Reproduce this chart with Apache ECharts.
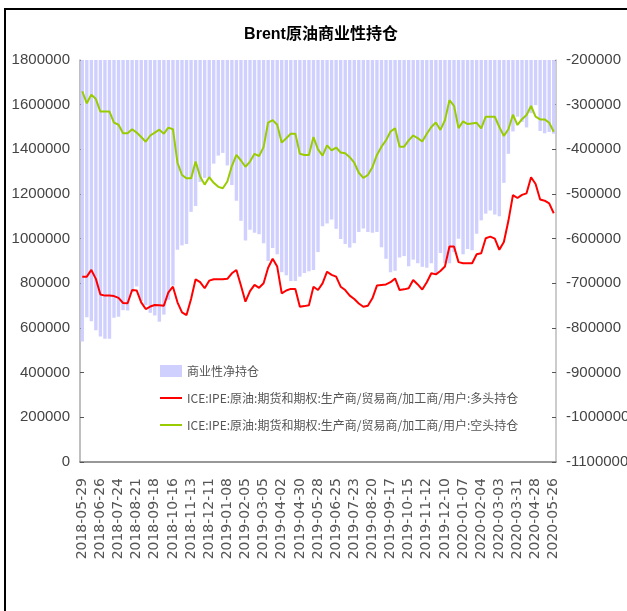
<!DOCTYPE html>
<html>
<head>
<meta charset="utf-8">
<script src="https://cdn.jsdelivr.net/npm/echarts@6/dist/echarts.min.js"></script>
<style>
  html, body { margin: 0; padding: 0; background: #fff; }
  #chart { width: 627px; height: 611px; }
</style>
</head>
<body>
<div id="chart"></div>
<script>
// weekly report dates (Tuesdays)
const dates = [
  '2018-05-29','2018-06-05','2018-06-12','2018-06-19','2018-06-26','2018-07-03','2018-07-10','2018-07-17',
  '2018-07-24','2018-07-31','2018-08-07','2018-08-14','2018-08-21','2018-08-28','2018-09-04','2018-09-11',
  '2018-09-18','2018-09-25','2018-10-02','2018-10-09','2018-10-16','2018-10-23','2018-10-30','2018-11-06',
  '2018-11-13','2018-11-20','2018-11-27','2018-12-04','2018-12-11','2018-12-18','2018-12-25','2019-01-01',
  '2019-01-08','2019-01-15','2019-01-22','2019-01-29','2019-02-05','2019-02-12','2019-02-19','2019-02-26',
  '2019-03-05','2019-03-12','2019-03-19','2019-03-26','2019-04-02','2019-04-09','2019-04-16','2019-04-23',
  '2019-04-30','2019-05-07','2019-05-14','2019-05-21','2019-05-28','2019-06-04','2019-06-11','2019-06-18',
  '2019-06-25','2019-07-02','2019-07-09','2019-07-16','2019-07-23','2019-07-30','2019-08-06','2019-08-13',
  '2019-08-20','2019-08-27','2019-09-03','2019-09-10','2019-09-17','2019-09-24','2019-10-01','2019-10-08',
  '2019-10-15','2019-10-22','2019-10-29','2019-11-05','2019-11-12','2019-11-19','2019-11-26','2019-12-03',
  '2019-12-10','2019-12-17','2019-12-24','2019-12-31','2020-01-07','2020-01-14','2020-01-21','2020-01-28',
  '2020-02-04','2020-02-11','2020-02-18','2020-02-25','2020-03-03','2020-03-10','2020-03-17','2020-03-24',
  '2020-03-31','2020-04-07','2020-04-14','2020-04-21','2020-04-28','2020-05-05','2020-05-12','2020-05-19',
  '2020-05-26'
];

// 商业性净持仓 (right axis)
const netPos = [
  -830000,-776000,-785000,-805000,-819000,-824000,-824000,-777000,-775000,-760000,-761000,-720000,
  -707000,-740000,-749000,-766000,-772000,-786000,-770000,-737000,-705000,-625000,-615000,-612000,
  -540000,-527000,-473000,-464000,-463000,-432000,-414000,-408000,-436000,-480000,-515000,-560000,
  -604000,-580000,-587000,-590000,-610000,-650000,-621000,-635000,-675000,-682000,-695000,-695000,
  -685000,-677000,-673000,-670000,-630000,-572000,-566000,-557000,-578000,-601000,-612000,-620000,
  -610000,-585000,-577000,-585000,-587000,-585000,-619000,-645000,-675000,-672000,-642000,-639000,
  -662000,-647000,-655000,-663000,-665000,-655000,-680000,-632000,-655000,-655000,-630000,-600000,
  -635000,-623000,-626000,-589000,-559000,-544000,-537000,-546000,-550000,-475000,-410000,-360000,
  -327000,-339000,-351000,-319000,-301000,-359000,-364000,-361000,-365000
];

// 多头持仓 (left axis)
const longPos = [
  830000,830000,860000,820000,750000,745000,745000,743000,735000,712000,711000,770000,
  768000,715000,685000,696000,703000,702000,700000,760000,785000,715000,670000,658000,
  730000,818000,805000,778000,812000,818000,818000,818000,820000,845000,860000,790000,
  718000,765000,793000,780000,800000,870000,910000,875000,755000,768000,775000,775000,
  695000,698000,702000,785000,770000,800000,852000,838000,830000,785000,770000,745000,
  730000,710000,695000,700000,733000,790000,793000,795000,805000,822000,770000,773000,
  778000,815000,795000,772000,805000,845000,840000,855000,875000,965000,965000,895000,
  890000,890000,890000,930000,935000,1002000,1009000,1000000,950000,985000,1080000,1195000,
  1182000,1196000,1203000,1275000,1245000,1175000,1170000,1158000,1114000
];

// 空头持仓 (left axis)
const shortPos = [
  1660000,1606000,1645000,1625000,1569000,1569000,1569000,1520000,1510000,1472000,1472000,1490000,
  1475000,1455000,1434000,1462000,1475000,1488000,1470000,1497000,1490000,1340000,1285000,1270000,
  1270000,1345000,1278000,1242000,1275000,1250000,1232000,1226000,1256000,1325000,1375000,1350000,
  1322000,1345000,1380000,1370000,1410000,1520000,1531000,1510000,1430000,1450000,1470000,1470000,
  1380000,1375000,1375000,1455000,1400000,1372000,1418000,1395000,1408000,1386000,1382000,1365000,
  1340000,1295000,1272000,1285000,1320000,1375000,1412000,1440000,1480000,1494000,1412000,1412000,
  1440000,1462000,1450000,1435000,1470000,1500000,1520000,1487000,1530000,1620000,1595000,1495000,
  1525000,1513000,1516000,1519000,1494000,1546000,1546000,1546000,1500000,1460000,1490000,1555000,
  1509000,1535000,1554000,1594000,1546000,1534000,1534000,1519000,1479000
];

const seriesNames = [
  '商业性净持仓',
  'ICE:IPE:原油:期货和期权:生产商/贸易商/加工商/用户:多头持仓',
  'ICE:IPE:原油:期货和期权:生产商/贸易商/加工商/用户:空头持仓'
];

// plain line for the legend, bbox padded to the full item box
const lineIcon = 'path://M0,0L0.01,0M0,5L22,5L22,7L0,7ZM21.99,12L22,12';

const numFont = "'Liberation Sans', Arial, sans-serif";

const chart = echarts.init(document.getElementById('chart'));

chart.setOption({
  animation: false,
  backgroundColor: '#fff',
  graphic: [{
    type: 'rect',
    shape: { x: 5, y: 9, width: 700, height: 700 },
    style: { fill: 'none', stroke: '#000', lineWidth: 2 },
    silent: true
  }],
  title: {
    text: 'Brent原油商业性持仓',
    left: 316,
    textAlign: 'center',
    top: 22,
    textStyle: {
      fontSize: 16,
      fontWeight: 'bold',
      color: '#000',
      fontFamily: "'Liberation Sans', 'Noto Sans CJK SC', sans-serif"
    }
  },
  legend: {
    orient: 'vertical',
    left: 155,
    top: 360,
    itemWidth: 22,
    itemHeight: 12,
    itemGap: 15,
    textStyle: { fontSize: 12, color: '#555', fontFamily: "'Noto Sans CJK SC', sans-serif" },
    data: [
      { name: seriesNames[0], icon: 'rect' },
      { name: seriesNames[1], icon: lineIcon },
      { name: seriesNames[2], icon: lineIcon }
    ]
  },
  grid: {
    left: 80,
    right: 71,
    top: 60,
    bottom: 149,
    containLabel: false,
    outerBoundsMode: 'none'
  },
  xAxis: {
    type: 'category',
    data: dates,
    boundaryGap: true,
    axisLine: { lineStyle: { color: '#777', width: 1.5 } },
    axisTick: { interval: 0, inside: true, length: 5, lineStyle: { color: '#777' } },
    axisLabel: {
      interval: 3,
      rotate: 90,
      margin: 16,
      fontSize: 14,
      color: '#555',
      fontFamily: "'DejaVu Sans', sans-serif"
    }
  },
  yAxis: [{
    type: 'value',
    min: 0,
    max: 1800000,
    interval: 200000,
    splitLine: { show: false },
    axisLine: { show: true, lineStyle: { color: '#aaa', width: 1.5 } },
    axisTick: { show: true, inside: true, length: 4, lineStyle: { color: '#555' } },
    axisLabel: {
      fontSize: 15,
      color: '#444',
      margin: 10,
      fontFamily: numFont,
      formatter: (v) => String(v)
    }
  }, {
    type: 'value',
    min: -1100000,
    max: -200000,
    interval: 100000,
    position: 'right',
    splitLine: { show: false },
    axisLine: { show: true, lineStyle: { color: '#bbb', width: 1.5 } },
    axisTick: { show: true, inside: true, length: 4, lineStyle: { color: '#555' } },
    axisLabel: {
      fontSize: 15,
      color: '#444',
      margin: 10,
      fontFamily: numFont,
      formatter: (v) => String(v)
    }
  }],
  series: [{
    name: seriesNames[0],
    type: 'bar',
    yAxisIndex: 1,
    data: netPos,
    barCategoryGap: '25%',
    clip: true,
    itemStyle: { color: '#d0d0ff' }
  }, {
    name: seriesNames[1],
    type: 'line',
    yAxisIndex: 0,
    data: longPos,
    symbol: 'none',
    lineStyle: { color: '#ff0000', width: 2 },
    itemStyle: { color: '#ff0000' }
  }, {
    name: seriesNames[2],
    type: 'line',
    yAxisIndex: 0,
    data: shortPos,
    symbol: 'none',
    lineStyle: { color: '#99cc00', width: 2 },
    itemStyle: { color: '#99cc00' }
  }]
});
</script>
</body>
</html>
